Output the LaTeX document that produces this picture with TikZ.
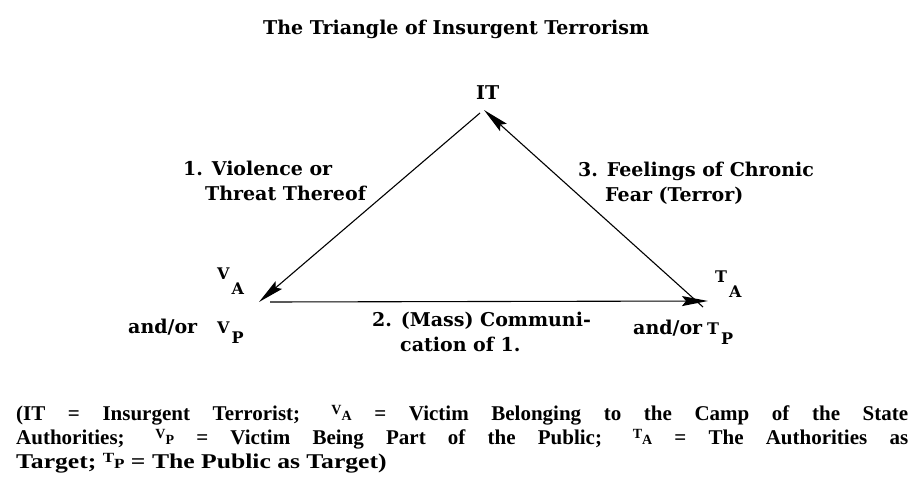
\documentclass[tikz,border=0pt]{standalone}
\usepackage{fontspec}
\setmainfont{Liberation Serif}
\newfontfamily\labelfont{DejaVu Serif}
\newfontfamily\widekey[FakeStretch=1.22]{Liberation Serif}
\usetikzlibrary{arrows.meta,positioning}

% letter with a lowered index (diagram corners)
\newcommand\lowidx[3][15pt]{{\fontsize{16}{16}\selectfont #2\hspace{2pt}\raisebox{-#1}{#3}}}
% small raised letter with index (caption)
\newcommand\capidx[2]{{\fontsize{14}{14}\selectfont\raisebox{6pt}{#1}#2}}

\tikzset{
  lbl/.style={font=\labelfont\bfseries\fontsize{19}{25}\selectfont,
    inner sep=0pt, align=left},
  link/.style={line width=1.1pt,
    -{Stealth[length=26pt,width=10pt,inset=4pt]}},
}

\begin{document}
\begin{tikzpicture}[x=1pt,y=-1pt]
  \useasboundingbox (0,0) rectangle (912,478);

  \node[lbl, anchor=base west] (title) at (263,35)
    {The Triangle of Insurgent Terrorism};
  \node[lbl, anchor=base west] (IT) at (476,100) {IT};

  % corners of the triangle
  \node[lbl, anchor=base west] (VA) at (217,279) {\lowidx{V}{A}};
  \node[lbl, anchor=base west] (TA) at (715,282) {\lowidx{T}{A}};
  \node[lbl, anchor=base west] (VP) at (128,333)
    {and/or\hspace{20pt}\lowidx[10pt]{V}{P}};
  \node[lbl, anchor=base west] (TP) at (633,334)
    {and/or\hspace{5pt}\lowidx[10pt]{T}{P}};

  \coordinate (itop) at (484,110);
  \coordinate (vtip) at (259,302);
  \coordinate (ttip) at (708,301);

  % the three steps
  \draw[link] ([xshift=-4pt,yshift=-3pt]itop) -- (vtip);
  \draw[link] ([xshift=11pt]vtip) -- (ttip);
  \draw[link] ([xshift=-5pt,yshift=-6pt]ttip) -- (itop);

  \node[lbl, anchor=base west] (step1) at (183,201)
    {1. Violence or\\\hspace*{22pt}Threat Thereof};
  \node[lbl, anchor=base west] (step2) at (372,351)
    {2. (Mass) Communi-\\\hspace*{28pt}cation of 1.};
  \node[lbl, anchor=base west] (step3) at (578,202)
    {3. Feelings of Chronic\\\hspace*{27pt}Fear (Terror)};

  % key below the diagram
  \node[inner sep=0pt, anchor=base west, align=left,
    font=\bfseries\fontsize{21}{24}\selectfont] (key) at (16,468)
    {\makebox[892pt][s]{(IT = Insurgent Terrorist; \capidx{V}{A} = Victim Belonging to the Camp of the State}\\
     \makebox[892pt][s]{Authorities; \capidx{V}{P} = Victim Being Part of the Public; \capidx{T}{A} = The Authorities as}\\
     {\widekey\bfseries Target; \capidx{T}{P} = The Public as Target)}};
\end{tikzpicture}
\end{document}
